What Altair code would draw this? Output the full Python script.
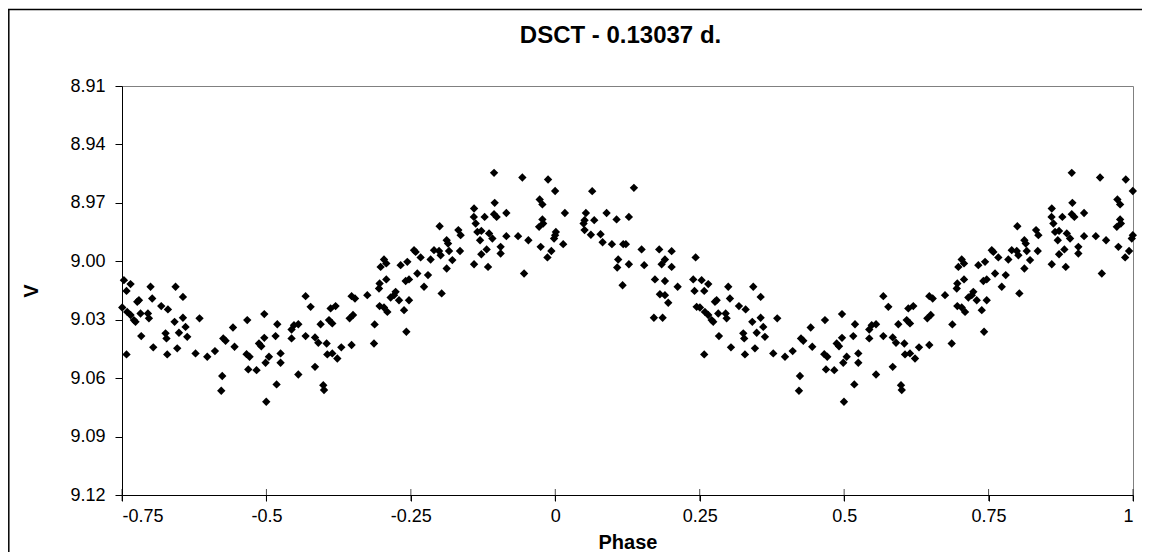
import altair as alt
import pandas as pd

# Light-curve data (phase 0..1)
phase = [
    0.001, 0.0166, 0.0137, 0.0639, 0.1361, 0.0530, 0.0507, 0.0490, 0.0674, 0.0888,
    0.1061, 0.1274, 0.0507, 0.0616, 0.0784, 0.0819, 0.0980, 0.1176, 0.1222, 0.1089,
    0.1072, 0.1274, 0.1165, 0.1494, 0.1539, 0.1799, 0.2014, 0.1898, 0.1841, 0.2014,
    0.1725, 0.1898, 0.1811, 0.1898, 0.1955, 0.2118, 0.1707, 0.1858, 0.2429, 0.2388,
    0.2410, 0.2447,
    0.2533, 0.2648, 0.2578, 0.2504, 0.2764, 0.2793, 0.2590, 0.2648, 0.2706, 0.2734,
    0.2821, 0.2949, 0.2966, 0.2994, 0.3023, 0.2833, 0.2578, 0.3041, 0.3179, 0.3295,
    0.3427, 0.3555, 0.3410, 0.3555, 0.3600, 0.3629, 0.3254, 0.3270, 0.3486, 0.3283,
    0.3456, 0.3773, 0.3842, 0.3976, 0.4109, 0.4253, 0.4293, 0.4421, 0.4448, 0.4235,
    0.4218, 0.4668, 0.4656, 0.4708, 0.4686, 0.4829, 0.4871, 0.4911, 0.4963, 0.4963,
    0.4985, 0.4997,
    0.5188, 0.5158, 0.5435, 0.5477, 0.5552, 0.5435, 0.5678, 0.5765, 0.5678, 0.5044,
    0.5245, 0.5245, 0.5552, 0.5176, 0.5841, 0.5984, 0.5997, 0.5841, 0.5898, 0.5938,
    0.6042, 0.6083, 0.6140, 0.6054, 0.6140, 0.6227, 0.6111, 0.6197, 0.6296, 0.6474,
    0.6440, 0.6499, 0.6474, 0.6533, 0.6746, 0.6873, 0.6862, 0.6959, 0.7035, 0.7093,
    0.6949, 0.6959, 0.7075, 0.6977, 0.7035, 0.7075, 0.7150, 0.7236, 0.7295, 0.7209,
    0.7382, 0.7323, 0.7439, 0.7410, 0.7468, 0.7422, 0.7468,
    0.7555, 0.7583, 0.7669, 0.7612, 0.7797, 0.7728, 0.8033, 0.7842, 0.7901, 0.7988,
    0.8016, 0.8120, 0.8144, 0.8161, 0.8218, 0.8120, 0.7998, 0.8322, 0.8362, 0.8351,
    0.8594, 0.8590, 0.8622, 0.8777, 0.8594, 0.8651, 0.8720, 0.8698, 0.8720, 0.8812,
    0.8836, 0.8854, 0.8911, 0.8951, 0.8940, 0.8985, 0.8940, 0.9054, 0.9054, 0.9153,
    0.9153, 0.9356, 0.9430, 0.9534, 0.9460, 0.9730, 0.9777, 0.9777, 0.9790, 0.9720,
    0.9747, 0.9875, 0.9997, 0.9997, 0.9979, 0.9932, 0.9864,
]
V = [
    8.9849, 8.9752, 8.9912, 8.9640, 8.9623, 8.9752, 8.9789, 8.9806, 8.9789, 8.9752,
    8.9785, 8.9772, 8.9840, 8.9864, 8.9861, 8.9902, 8.9912, 8.9912, 8.9912, 8.9991,
    9.0032, 9.0015, 9.0123, 8.9939, 9.0020, 8.9939, 8.9948, 8.9991, 9.0015, 9.0029,
    9.0093, 9.0101, 9.0169, 9.0174, 9.0213, 9.0131, 9.0290, 9.0290, 8.9980, 9.0093,
    9.0152, 9.0234,
    9.0097, 9.0117, 9.0152, 9.0237, 9.0208, 9.0200, 9.0260, 9.0276, 9.0302, 9.0311,
    9.0268, 9.0268, 9.0293, 9.0131, 9.0191, 9.0384, 9.0478, 9.0442, 9.0230, 9.0247,
    9.0131, 9.0183, 9.0311, 9.0290, 9.0337, 9.0388, 9.0370, 9.0396, 9.0367, 9.0478,
    9.0447, 9.0473, 9.0293, 9.0490, 9.0461, 9.0396, 9.0408, 9.0340, 9.0439, 9.0589,
    9.0665, 9.0302, 9.0477, 9.0490, 9.0555, 9.0559, 9.0422, 9.0436, 9.0271, 9.0393,
    9.0521, 9.0721,
    9.0323, 9.0384, 9.0350, 9.0328, 9.0323, 9.0396, 9.0179, 9.0234, 9.0384, 9.0490,
    9.0473, 9.0521, 9.0581, 9.0632, 9.0542, 9.0636, 9.0661, 9.0391, 9.0418, 9.0323,
    9.0422, 9.0302, 9.0319, 9.0478, 9.0473, 9.0499, 9.0242, 9.0230, 9.0442, 9.0430,
    9.0293, 9.0276, 9.0179, 9.0191, 9.0174, 9.0324, 9.0422, 9.0230, 9.0237, 9.0260,
    9.0140, 9.0114, 9.0093, 9.0029, 8.9991, 9.0011, 9.0186, 9.0157, 9.0200, 9.0174,
    9.0251, 9.0020, 9.0003, 9.0101, 9.0093, 9.0362, 9.0200,
    8.9943, 8.9952, 8.9980, 9.0063, 9.0071, 9.0131, 9.0165, 8.9991, 8.9943, 8.9947,
    8.9969, 8.9892, 8.9909, 8.9947, 8.9994, 9.0037, 8.9820, 8.9840, 8.9866, 8.9947,
    8.9729, 8.9772, 8.9806, 8.9772, 9.0015, 8.9849, 8.9844, 8.9892, 8.9964, 8.9939,
    9.0029, 8.9857, 8.9883, 8.9700, 8.9758, 8.9772, 8.9546, 8.9926, 8.9960, 8.9752,
    8.9871, 8.9871, 8.9570, 8.9892, 9.0063, 8.9683, 8.9708, 8.9785, 8.9806, 8.9823,
    8.9926, 8.9580, 8.9639, 8.9866, 8.9883, 8.9947, 8.9980,
]

x_ticks = [-0.75, -0.5, -0.25, 0, 0.25, 0.5, 0.75, 1]
y_ticks = [8.91, 8.94, 8.97, 9.00, 9.03, 9.06, 9.09, 9.12]
title_text = "DSCT - 0.13037 d."

df = pd.DataFrame({"phase": phase, "V": V})
ticks_df = pd.DataFrame({"t": x_ticks})

FONT = "Liberation Sans"

x_scale = alt.Scale(domain=[-0.75, 1], nice=False, zero=False)
y_scale = alt.Scale(domain=[8.91, 9.12], nice=False, zero=False, reverse=True)

x_axis = alt.Axis(values=x_ticks, labelExpr="'' + datum.value", title="Phase",
                  grid=False, tickSize=6, labelPadding=6, titlePadding=7)
y_axis = alt.Axis(values=y_ticks, format=".2f", title="V", grid=False,
                  tickSize=7, labelPadding=10, titlePadding=28)

mark = dict(shape="diamond", filled=True, color="black", size=70, opacity=1, strokeWidth=0)

pts = alt.Chart(df).mark_point(**mark).encode(
    x=alt.X("phase:Q", scale=x_scale, axis=x_axis),
    y=alt.Y("V:Q", scale=y_scale, axis=y_axis),
)

pts_prev = alt.Chart(df).transform_calculate(
    phase_prev="datum.phase - 1"
).transform_filter(
    "datum.phase_prev >= -0.75"
).mark_point(**mark).encode(
    x=alt.X("phase_prev:Q", scale=x_scale, axis=x_axis),
    y=alt.Y("V:Q", scale=y_scale, axis=y_axis),
)

# inner half of the x-axis tick marks (ticks cross the axis line)
inner_ticks = alt.Chart(ticks_df).mark_tick(
    color="black", thickness=1, size=12, orient="vertical"
).encode(
    x=alt.X("t:Q", scale=x_scale, axis=x_axis),
    y=alt.value(409),
)

one_row = alt.Data(values=[{"a": 1}])
frame_top = alt.Chart(one_row).mark_rule(
    color="black", strokeWidth=1.5, clip=False
).encode(x=alt.value(-114), x2=alt.value(1020), y=alt.value(-76.5))
frame_left = alt.Chart(one_row).mark_rule(
    color="black", strokeWidth=1.5, clip=False
).encode(x=alt.value(-113.2), y=alt.value(-77), y2=alt.value(466))

title = alt.Chart(one_row).mark_text(
    text=title_text, font=FONT, fontSize=24, fontWeight="bold", color="black",
    align="center", baseline="alphabetic", clip=False
).encode(x=alt.value(498.5), y=alt.value(-43))

chart = alt.layer(frame_top, frame_left, inner_ticks, pts, pts_prev, title).properties(
    width=1011,
    height=409,
    background="white",
    autosize=alt.AutoSizeParams(type="none"),
    padding={"left": 114, "top": 78, "right": 9, "bottom": 57},
).configure_view(
    stroke="#808080", strokeWidth=1
).configure_axis(
    domainColor="black", tickColor="black", labelColor="black", titleColor="black",
    labelFont=FONT, labelFontSize=18, titleFont=FONT, titleFontSize=20,
    titleFontWeight="bold", domainWidth=1, tickWidth=1,
)

chart.save("out.html", embed_options={"renderer": "svg", "actions": False})
